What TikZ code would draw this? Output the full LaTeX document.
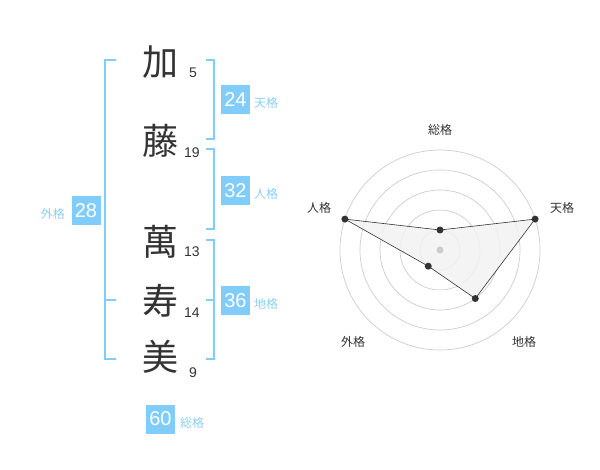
\documentclass[tikz,border=0pt]{standalone}
\usepackage{fontspec}
\setmainfont{Liberation Sans}
\newfontfamily\jp{Noto Sans CJK JP}

\definecolor{kakuBlue}{HTML}{80CCFA}
\definecolor{kakuText}{HTML}{8CCFF2}
\definecolor{inkGray}{HTML}{333333}
\definecolor{ringGray}{HTML}{CCCCCC}
\definecolor{fillGray}{HTML}{F2F2F2}

\tikzset{
	kanji/.style = {font = \jp\fontsize{36}{36}\selectfont, text = inkGray, inner sep = 0pt},
	strokes/.style = {font = \fontsize{14}{14}\selectfont, text = inkGray, inner sep = 0pt},
	score/.style = {fill = kakuBlue, text = white, minimum size = 29pt, inner sep = 0pt, font = \fontsize{20}{20}\selectfont},
	kaku/.style = {font = \jp\fontsize{12}{12}\selectfont, text = kakuText, inner sep = 0pt},
	bracket/.style = {draw = kakuBlue, line width = 2pt},
	ring/.style = {draw = ringGray, line width = 0.7pt},
	axis/.style = {font = \jp\fontsize{12}{12}\selectfont, text = inkGray, inner sep = 0pt},
	dot/.style = {circle, fill = inkGray, inner sep = 0pt, minimum size = 7pt}
}

\begin{document}
\begin{tikzpicture}[x = 1pt, y = -1pt]
\useasboundingbox (0, 0) rectangle (600, 470);

	% Name characters
	
	\node [kanji] (ka) at (160, 62) {加};
	\node [kanji] (fuji) at (160, 141) {藤};
	\node [kanji] (man) at (160, 242) {萬};
	\node [kanji] (ju) at (160, 301) {寿};
	\node [kanji] (mi) at (160, 357) {美};
	
	% Stroke counts
	
	\node [strokes] (kaN) at (193, 73) {5};
	\node [strokes] (fujiN) at (192, 153) {19};
	\node [strokes] (manN) at (192, 252) {13};
	\node [strokes] (juN) at (192, 313) {14};
	\node [strokes] (miN) at (193, 373) {9};
	
	% Brackets
	
	\draw [bracket] (206, 60) -- (214, 60) -- (214, 139) -- (206, 139);
	\draw [bracket] (206, 149) -- (214, 149) -- (214, 229) -- (206, 229);
	\draw [bracket] (206, 240) -- (214, 240) -- (214, 359) -- (206, 359);
	\draw [bracket] (206, 300) -- (214, 300);
	\draw [bracket] (116, 60) -- (105, 60) -- (105, 359) -- (116, 359);
	\draw [bracket] (105, 300) -- (116, 300);
	
	% Scores
	
	\node [score] (ten) at (235.5, 99.5) {24};
	\node [kaku, anchor = west] (tenL) at (254, 103) {天格};
	\node [score] (jin) at (235.5, 190.5) {32};
	\node [kaku, anchor = west] (jinL) at (254, 194) {人格};
	\node [score] (chi) at (235.5, 300.5) {36};
	\node [kaku, anchor = west] (chiL) at (254, 304) {地格};
	\node [score] (gai) at (86, 210.5) {28};
	\node [kaku, anchor = east] (gaiL) at (65, 213.5) {外格};
	\node [score] (sou) at (160.5, 419) {60};
	\node [kaku, anchor = west] (souL) at (180, 422.5) {総格};
	
	% Radar rings
	
	\coordinate (c) at (440, 250);
	\foreach \r in {20, 40, 60, 80, 100}
		\draw [ring] (c) circle [radius = \r pt];
	
	% Radar values
	
	\coordinate (rSou) at ([shift = {(90:20pt)}] c);
	\coordinate (rTen) at ([shift = {(18:100pt)}] c);
	\coordinate (rChi) at ([shift = {(-54:60pt)}] c);
	\coordinate (rGai) at ([shift = {(234:20pt)}] c);
	\coordinate (rJin) at ([shift = {(162:100pt)}] c);
	
	\draw [fill = fillGray, fill opacity = 0.85, draw = inkGray, line width = 0.6pt]
		(rSou) -- (rTen) -- (rChi) -- (rGai) -- (rJin) -- cycle;
	\fill [ringGray] (c) circle [radius = 3.5pt];
	\foreach \p in {rSou, rTen, rChi, rGai, rJin}
		\node [dot] at (\p) {};
	
	% Radar labels
	
	\node [axis] (aSou) at (440, 130) {総格};
	\node [axis] (aTen) at (562, 208) {天格};
	\node [axis] (aJin) at (319, 208) {人格};
	\node [axis] (aGai) at (353, 342) {外格};
	\node [axis] (aChi) at (524, 342) {地格};

\end{tikzpicture}
\end{document}
